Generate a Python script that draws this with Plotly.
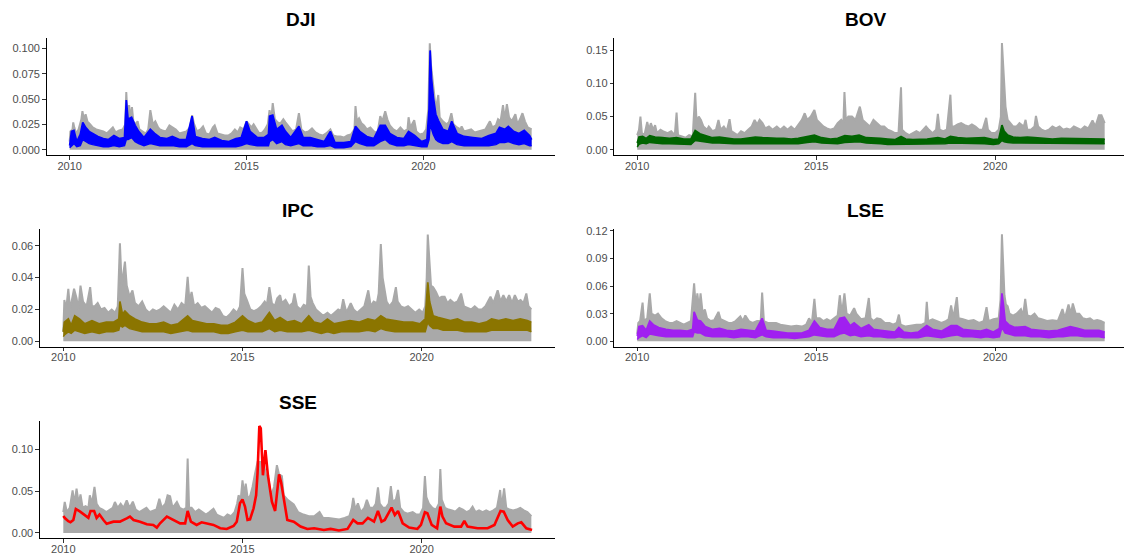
import plotly.graph_objects as go

# ---------------- DATA (time in decimal years, values = volatility) ----------------
# Gray series: upper envelope of daily absolute returns
dji_gray = [
    [2010.00, 0.008], [2010.02, 0.018], [2010.08, 0.020], [2010.10, 0.027], [2010.13, 0.022],
    [2010.18, 0.016], [2010.25, 0.020], [2010.33, 0.030], [2010.36, 0.038], [2010.40, 0.030],
    [2010.45, 0.035], [2010.50, 0.028], [2010.58, 0.025], [2010.65, 0.022], [2010.75, 0.020],
    [2010.85, 0.019], [2010.95, 0.018], [2011.05, 0.016], [2011.15, 0.020], [2011.22, 0.022],
    [2011.30, 0.017], [2011.40, 0.019], [2011.50, 0.020], [2011.57, 0.025], [2011.60, 0.057],
    [2011.63, 0.035], [2011.68, 0.044], [2011.72, 0.030], [2011.76, 0.042], [2011.80, 0.028],
    [2011.86, 0.025], [2011.92, 0.028], [2011.97, 0.020], [2012.05, 0.018], [2012.15, 0.016],
    [2012.22, 0.020], [2012.28, 0.039], [2012.35, 0.025], [2012.42, 0.028], [2012.50, 0.022],
    [2012.55, 0.020], [2012.62, 0.019], [2012.72, 0.018], [2012.82, 0.024], [2012.90, 0.022],
    [2013.00, 0.020], [2013.10, 0.016], [2013.20, 0.017], [2013.30, 0.018], [2013.40, 0.022],
    [2013.46, 0.034], [2013.52, 0.025], [2013.60, 0.018], [2013.70, 0.020], [2013.77, 0.023],
    [2013.85, 0.016], [2013.95, 0.015], [2014.05, 0.022], [2014.10, 0.024], [2014.18, 0.016],
    [2014.28, 0.015], [2014.38, 0.014], [2014.48, 0.014], [2014.58, 0.016], [2014.67, 0.020],
    [2014.75, 0.017], [2014.82, 0.022], [2014.92, 0.020], [2015.00, 0.028], [2015.06, 0.025],
    [2015.14, 0.022], [2015.20, 0.025], [2015.28, 0.020], [2015.36, 0.016], [2015.45, 0.017],
    [2015.52, 0.020], [2015.60, 0.025], [2015.65, 0.039], [2015.70, 0.030], [2015.74, 0.046],
    [2015.80, 0.030], [2015.88, 0.027], [2015.96, 0.026], [2016.04, 0.030], [2016.10, 0.027],
    [2016.20, 0.022], [2016.30, 0.018], [2016.40, 0.020], [2016.48, 0.036], [2016.55, 0.020],
    [2016.65, 0.017], [2016.75, 0.018], [2016.85, 0.021], [2016.95, 0.017], [2017.05, 0.015],
    [2017.15, 0.014], [2017.25, 0.016], [2017.37, 0.020], [2017.45, 0.014], [2017.55, 0.013],
    [2017.65, 0.013], [2017.75, 0.012], [2017.85, 0.014], [2017.95, 0.015], [2018.05, 0.020],
    [2018.08, 0.043], [2018.12, 0.028], [2018.18, 0.031], [2018.25, 0.026], [2018.32, 0.024],
    [2018.40, 0.020], [2018.50, 0.022], [2018.60, 0.018], [2018.70, 0.016], [2018.78, 0.033],
    [2018.84, 0.028], [2018.92, 0.038], [2018.98, 0.030], [2019.05, 0.024], [2019.15, 0.020],
    [2019.25, 0.018], [2019.35, 0.022], [2019.45, 0.018], [2019.55, 0.020], [2019.58, 0.032],
    [2019.63, 0.022], [2019.74, 0.029], [2019.80, 0.018], [2019.90, 0.015], [2020.00, 0.016],
    [2020.08, 0.020], [2020.14, 0.040], [2020.18, 0.105], [2020.21, 0.085], [2020.25, 0.072],
    [2020.30, 0.050], [2020.35, 0.040], [2020.42, 0.054], [2020.46, 0.032], [2020.55, 0.028],
    [2020.65, 0.025], [2020.72, 0.027], [2020.79, 0.036], [2020.85, 0.025], [2020.95, 0.022],
    [2021.05, 0.020], [2021.08, 0.023], [2021.15, 0.018], [2021.25, 0.019], [2021.35, 0.020],
    [2021.45, 0.017], [2021.55, 0.018], [2021.65, 0.019], [2021.75, 0.020], [2021.88, 0.028],
    [2021.95, 0.022], [2022.05, 0.024], [2022.11, 0.030], [2022.18, 0.028], [2022.25, 0.044],
    [2022.30, 0.030], [2022.36, 0.045], [2022.42, 0.032], [2022.50, 0.028], [2022.60, 0.035],
    [2022.66, 0.025], [2022.73, 0.030], [2022.80, 0.036], [2022.87, 0.028], [2022.95, 0.022],
    [2023.06, 0.020],
]
# Colored series: [time, upper, lower] of the fitted volatility band
dji_fit = [
    [2010.00, 0.004, 0.002], [2010.05, 0.018, 0.004], [2010.12, 0.019, 0.006], [2010.20, 0.008, 0.003],
    [2010.30, 0.015, 0.004], [2010.37, 0.027, 0.010], [2010.45, 0.022, 0.008], [2010.55, 0.018, 0.006],
    [2010.65, 0.016, 0.005], [2010.80, 0.013, 0.004], [2010.95, 0.011, 0.003], [2011.10, 0.010, 0.003],
    [2011.25, 0.014, 0.004], [2011.40, 0.011, 0.003], [2011.55, 0.012, 0.004], [2011.60, 0.049, 0.010],
    [2011.65, 0.030, 0.010], [2011.75, 0.032, 0.012], [2011.85, 0.024, 0.008], [2011.95, 0.018, 0.006],
    [2012.10, 0.012, 0.004], [2012.28, 0.020, 0.006], [2012.40, 0.016, 0.005], [2012.55, 0.012, 0.004],
    [2012.75, 0.011, 0.004], [2012.90, 0.013, 0.004], [2013.10, 0.010, 0.003], [2013.30, 0.010, 0.003],
    [2013.46, 0.033, 0.006], [2013.55, 0.013, 0.004], [2013.75, 0.011, 0.003], [2013.95, 0.010, 0.003],
    [2014.10, 0.012, 0.003], [2014.30, 0.009, 0.003], [2014.50, 0.008, 0.003], [2014.70, 0.011, 0.003],
    [2014.85, 0.012, 0.004], [2015.00, 0.028, 0.006], [2015.10, 0.018, 0.005], [2015.30, 0.012, 0.004],
    [2015.50, 0.012, 0.004], [2015.62, 0.015, 0.004], [2015.65, 0.033, 0.008], [2015.74, 0.034, 0.010],
    [2015.85, 0.020, 0.006], [2016.00, 0.024, 0.008], [2016.10, 0.018, 0.005], [2016.25, 0.012, 0.004],
    [2016.48, 0.023, 0.006], [2016.60, 0.012, 0.004], [2016.80, 0.012, 0.004], [2017.00, 0.010, 0.003],
    [2017.20, 0.008, 0.003], [2017.37, 0.018, 0.004], [2017.50, 0.007, 0.002], [2017.75, 0.007, 0.002],
    [2017.95, 0.008, 0.003], [2018.08, 0.023, 0.008], [2018.20, 0.018, 0.006], [2018.40, 0.013, 0.004],
    [2018.60, 0.011, 0.004], [2018.78, 0.024, 0.008], [2018.92, 0.024, 0.010], [2019.05, 0.016, 0.006],
    [2019.25, 0.012, 0.004], [2019.45, 0.011, 0.004], [2019.58, 0.018, 0.005], [2019.75, 0.014, 0.004],
    [2019.95, 0.008, 0.003], [2020.10, 0.010, 0.003], [2020.16, 0.040, 0.010], [2020.19, 0.098, 0.025],
    [2020.23, 0.070, 0.020], [2020.28, 0.052, 0.015], [2020.35, 0.035, 0.010], [2020.42, 0.029, 0.008],
    [2020.55, 0.020, 0.006], [2020.70, 0.018, 0.006], [2020.80, 0.028, 0.008], [2020.95, 0.016, 0.005],
    [2021.15, 0.013, 0.004], [2021.40, 0.012, 0.004], [2021.65, 0.011, 0.004], [2021.85, 0.014, 0.004],
    [2022.05, 0.016, 0.005], [2022.15, 0.022, 0.007], [2022.30, 0.020, 0.007], [2022.40, 0.023, 0.008],
    [2022.55, 0.018, 0.006], [2022.70, 0.016, 0.005], [2022.85, 0.019, 0.006], [2023.00, 0.014, 0.004],
    [2023.06, 0.010, 0.004],
]

bov_gray = [
    [2010.00, 0.022], [2010.05, 0.030], [2010.09, 0.050], [2010.13, 0.025], [2010.20, 0.022],
    [2010.28, 0.042], [2010.33, 0.030], [2010.38, 0.040], [2010.45, 0.030], [2010.50, 0.037],
    [2010.55, 0.025], [2010.65, 0.030], [2010.75, 0.027], [2010.85, 0.025], [2010.95, 0.028],
    [2011.05, 0.022], [2011.10, 0.056], [2011.14, 0.022], [2011.25, 0.020], [2011.35, 0.018],
    [2011.45, 0.022], [2011.55, 0.020], [2011.62, 0.086], [2011.66, 0.040], [2011.72, 0.050],
    [2011.78, 0.045], [2011.85, 0.035], [2011.95, 0.030], [2012.00, 0.035], [2012.10, 0.028],
    [2012.20, 0.030], [2012.27, 0.045], [2012.33, 0.030], [2012.42, 0.035], [2012.50, 0.028],
    [2012.58, 0.046], [2012.63, 0.028], [2012.72, 0.025], [2012.80, 0.022], [2012.90, 0.028],
    [2013.00, 0.025], [2013.10, 0.030], [2013.20, 0.035], [2013.28, 0.045], [2013.35, 0.038],
    [2013.42, 0.045], [2013.50, 0.040], [2013.58, 0.032], [2013.68, 0.035], [2013.78, 0.030],
    [2013.90, 0.035], [2014.00, 0.030], [2014.10, 0.035], [2014.20, 0.030], [2014.30, 0.035],
    [2014.40, 0.030], [2014.50, 0.038], [2014.60, 0.045], [2014.68, 0.055], [2014.75, 0.045],
    [2014.85, 0.050], [2014.95, 0.060], [2015.02, 0.045], [2015.10, 0.040], [2015.20, 0.035],
    [2015.30, 0.032], [2015.40, 0.030], [2015.50, 0.032], [2015.60, 0.040], [2015.70, 0.045],
    [2015.76, 0.040], [2015.79, 0.087], [2015.83, 0.045], [2015.90, 0.050], [2016.00, 0.050],
    [2016.10, 0.045], [2016.22, 0.065], [2016.30, 0.045], [2016.40, 0.040], [2016.50, 0.035],
    [2016.60, 0.045], [2016.70, 0.040], [2016.80, 0.035], [2016.90, 0.035], [2017.00, 0.030],
    [2017.10, 0.028], [2017.20, 0.025], [2017.30, 0.025], [2017.37, 0.094], [2017.40, 0.030],
    [2017.50, 0.025], [2017.60, 0.022], [2017.70, 0.025], [2017.80, 0.028], [2017.90, 0.025],
    [2018.00, 0.030], [2018.07, 0.035], [2018.15, 0.030], [2018.25, 0.025], [2018.35, 0.030],
    [2018.40, 0.054], [2018.45, 0.030], [2018.55, 0.028], [2018.65, 0.030], [2018.75, 0.083],
    [2018.79, 0.035], [2018.85, 0.035], [2018.95, 0.038], [2019.05, 0.040], [2019.15, 0.037],
    [2019.25, 0.035], [2019.35, 0.038], [2019.45, 0.035], [2019.55, 0.030], [2019.65, 0.030],
    [2019.75, 0.048], [2019.80, 0.030], [2019.90, 0.025], [2020.00, 0.025], [2020.10, 0.030],
    [2020.16, 0.050], [2020.19, 0.161], [2020.22, 0.125], [2020.25, 0.105], [2020.29, 0.065],
    [2020.35, 0.045], [2020.42, 0.040], [2020.50, 0.035], [2020.60, 0.035], [2020.68, 0.040],
    [2020.80, 0.035], [2020.85, 0.045], [2020.90, 0.030], [2021.00, 0.030], [2021.10, 0.035],
    [2021.14, 0.051], [2021.20, 0.035], [2021.30, 0.030], [2021.40, 0.028], [2021.50, 0.030],
    [2021.60, 0.035], [2021.70, 0.032], [2021.80, 0.035], [2021.90, 0.030], [2022.00, 0.032],
    [2022.10, 0.030], [2022.20, 0.035], [2022.30, 0.032], [2022.40, 0.030], [2022.50, 0.035],
    [2022.60, 0.032], [2022.72, 0.044], [2022.80, 0.035], [2022.90, 0.052], [2022.97, 0.052],
    [2023.06, 0.040],
]
bov_fit = [
    [2010.00, 0.010, 0.004], [2010.05, 0.019, 0.008], [2010.15, 0.020, 0.010], [2010.25, 0.017, 0.009],
    [2010.35, 0.021, 0.011], [2010.50, 0.019, 0.010], [2010.70, 0.018, 0.009], [2010.90, 0.017, 0.009],
    [2011.10, 0.018, 0.009], [2011.30, 0.016, 0.008], [2011.50, 0.016, 0.008], [2011.62, 0.029, 0.014],
    [2011.75, 0.024, 0.013], [2011.90, 0.021, 0.011], [2012.10, 0.018, 0.010], [2012.30, 0.019, 0.010],
    [2012.50, 0.017, 0.009], [2012.70, 0.016, 0.009], [2012.90, 0.016, 0.009], [2013.10, 0.017, 0.009],
    [2013.30, 0.019, 0.010], [2013.50, 0.018, 0.010], [2013.70, 0.017, 0.009], [2013.90, 0.017, 0.009],
    [2014.10, 0.017, 0.009], [2014.30, 0.016, 0.009], [2014.50, 0.017, 0.009], [2014.75, 0.020, 0.011],
    [2014.95, 0.022, 0.012], [2015.15, 0.018, 0.010], [2015.40, 0.016, 0.009], [2015.60, 0.017, 0.009],
    [2015.80, 0.021, 0.011], [2016.00, 0.020, 0.011], [2016.20, 0.022, 0.012], [2016.40, 0.018, 0.010],
    [2016.60, 0.018, 0.010], [2016.80, 0.017, 0.009], [2017.00, 0.016, 0.008], [2017.20, 0.015, 0.008],
    [2017.37, 0.020, 0.009], [2017.50, 0.016, 0.008], [2017.70, 0.015, 0.008], [2017.90, 0.015, 0.008],
    [2018.10, 0.016, 0.009], [2018.40, 0.018, 0.009], [2018.60, 0.016, 0.009], [2018.75, 0.020, 0.010],
    [2018.95, 0.018, 0.010], [2019.20, 0.017, 0.009], [2019.45, 0.017, 0.009], [2019.70, 0.018, 0.009],
    [2019.95, 0.015, 0.008], [2020.10, 0.016, 0.009], [2020.19, 0.037, 0.014], [2020.25, 0.028, 0.012],
    [2020.35, 0.022, 0.011], [2020.50, 0.019, 0.010], [2020.70, 0.018, 0.010], [2020.90, 0.019, 0.010],
    [2021.10, 0.018, 0.010], [2021.35, 0.017, 0.009], [2021.60, 0.016, 0.009], [2021.85, 0.017, 0.009],
    [2022.10, 0.017, 0.009], [2022.35, 0.016, 0.009], [2022.60, 0.016, 0.009], [2022.85, 0.017, 0.010],
    [2023.06, 0.016, 0.009],
]

ipc_gray = [
    [2010.00, 0.006], [2010.03, 0.026], [2010.08, 0.020], [2010.14, 0.033], [2010.19, 0.020],
    [2010.30, 0.033], [2010.37, 0.027], [2010.42, 0.020], [2010.48, 0.035], [2010.55, 0.025],
    [2010.65, 0.022], [2010.75, 0.034], [2010.80, 0.022], [2010.88, 0.022], [2010.96, 0.024],
    [2011.05, 0.020], [2011.15, 0.021], [2011.25, 0.018], [2011.35, 0.020], [2011.45, 0.018],
    [2011.52, 0.022], [2011.58, 0.0615], [2011.63, 0.035], [2011.72, 0.050], [2011.77, 0.035],
    [2011.85, 0.028], [2011.93, 0.032], [2012.00, 0.024], [2012.10, 0.022], [2012.20, 0.025],
    [2012.30, 0.020], [2012.40, 0.018], [2012.50, 0.020], [2012.60, 0.019], [2012.70, 0.020],
    [2012.80, 0.022], [2012.90, 0.020], [2013.00, 0.018], [2013.10, 0.023], [2013.20, 0.020],
    [2013.30, 0.024], [2013.40, 0.022], [2013.47, 0.0405], [2013.52, 0.025], [2013.58, 0.031],
    [2013.65, 0.022], [2013.75, 0.024], [2013.85, 0.021], [2013.95, 0.022], [2014.05, 0.020],
    [2014.15, 0.018], [2014.25, 0.021], [2014.35, 0.020], [2014.45, 0.016], [2014.55, 0.015],
    [2014.65, 0.017], [2014.75, 0.020], [2014.85, 0.018], [2014.93, 0.022], [2015.00, 0.046],
    [2015.05, 0.030], [2015.12, 0.026], [2015.22, 0.020], [2015.32, 0.019], [2015.42, 0.020],
    [2015.52, 0.022], [2015.62, 0.025], [2015.68, 0.023], [2015.75, 0.034], [2015.82, 0.024],
    [2015.90, 0.022], [2015.97, 0.027], [2016.05, 0.029], [2016.10, 0.024], [2016.20, 0.026],
    [2016.30, 0.022], [2016.40, 0.024], [2016.45, 0.030], [2016.52, 0.022], [2016.62, 0.020],
    [2016.71, 0.023], [2016.80, 0.022], [2016.85, 0.0475], [2016.90, 0.028], [2016.96, 0.024],
    [2017.05, 0.020], [2017.15, 0.018], [2017.25, 0.016], [2017.37, 0.018], [2017.47, 0.016],
    [2017.57, 0.018], [2017.67, 0.020], [2017.75, 0.019], [2017.81, 0.0265], [2017.90, 0.018],
    [2018.02, 0.024], [2018.10, 0.020], [2018.20, 0.018], [2018.30, 0.020], [2018.40, 0.022],
    [2018.51, 0.032], [2018.58, 0.022], [2018.66, 0.025], [2018.75, 0.024], [2018.80, 0.030],
    [2018.86, 0.061], [2018.91, 0.040], [2018.96, 0.034], [2019.02, 0.025], [2019.10, 0.022],
    [2019.20, 0.025], [2019.28, 0.034], [2019.33, 0.025], [2019.42, 0.022], [2019.52, 0.021],
    [2019.62, 0.022], [2019.72, 0.020], [2019.82, 0.018], [2019.93, 0.020], [2020.03, 0.018],
    [2020.10, 0.022], [2020.14, 0.040], [2020.17, 0.067], [2020.21, 0.055], [2020.26, 0.035],
    [2020.32, 0.034], [2020.40, 0.031], [2020.48, 0.027], [2020.56, 0.028], [2020.64, 0.028],
    [2020.72, 0.024], [2020.80, 0.026], [2020.90, 0.024], [2021.00, 0.025], [2021.10, 0.030],
    [2021.18, 0.022], [2021.28, 0.021], [2021.38, 0.020], [2021.48, 0.022], [2021.58, 0.020],
    [2021.68, 0.020], [2021.78, 0.022], [2021.92, 0.028], [2022.00, 0.024], [2022.12, 0.032],
    [2022.20, 0.025], [2022.28, 0.029], [2022.36, 0.025], [2022.44, 0.029], [2022.52, 0.024],
    [2022.60, 0.029], [2022.68, 0.025], [2022.76, 0.026], [2022.84, 0.024], [2022.92, 0.030],
    [2022.98, 0.022], [2023.06, 0.020],
]
ipc_fit = [
    [2010.00, 0.006, 0.003], [2010.03, 0.012, 0.004], [2010.14, 0.014, 0.006], [2010.22, 0.010, 0.005],
    [2010.32, 0.016, 0.007], [2010.45, 0.014, 0.006], [2010.60, 0.011, 0.005], [2010.80, 0.013, 0.006],
    [2011.00, 0.011, 0.005], [2011.20, 0.012, 0.006], [2011.40, 0.012, 0.006], [2011.55, 0.014, 0.007],
    [2011.58, 0.025, 0.010], [2011.65, 0.017, 0.009], [2011.72, 0.019, 0.010], [2011.85, 0.016, 0.008],
    [2012.00, 0.014, 0.007], [2012.20, 0.012, 0.006], [2012.40, 0.011, 0.006], [2012.60, 0.011, 0.006],
    [2012.80, 0.012, 0.006], [2013.00, 0.010, 0.005], [2013.20, 0.011, 0.006], [2013.47, 0.016, 0.007],
    [2013.60, 0.013, 0.006], [2013.80, 0.012, 0.006], [2014.00, 0.011, 0.006], [2014.20, 0.011, 0.006],
    [2014.40, 0.010, 0.005], [2014.60, 0.010, 0.005], [2014.80, 0.012, 0.006], [2015.00, 0.016, 0.007],
    [2015.15, 0.013, 0.006], [2015.35, 0.011, 0.006], [2015.55, 0.012, 0.006], [2015.75, 0.018, 0.008],
    [2015.90, 0.013, 0.006], [2016.05, 0.015, 0.007], [2016.25, 0.012, 0.006], [2016.45, 0.013, 0.006],
    [2016.65, 0.011, 0.006], [2016.85, 0.016, 0.007], [2017.00, 0.012, 0.006], [2017.20, 0.011, 0.005],
    [2017.37, 0.014, 0.006], [2017.55, 0.011, 0.005], [2017.75, 0.012, 0.006], [2018.00, 0.013, 0.006],
    [2018.25, 0.012, 0.006], [2018.50, 0.014, 0.007], [2018.70, 0.013, 0.006], [2018.86, 0.016, 0.008],
    [2019.00, 0.014, 0.007], [2019.25, 0.013, 0.006], [2019.50, 0.012, 0.006], [2019.75, 0.012, 0.006],
    [2019.95, 0.011, 0.006], [2020.10, 0.014, 0.006], [2020.17, 0.037, 0.012], [2020.22, 0.025, 0.010],
    [2020.32, 0.016, 0.008], [2020.45, 0.015, 0.008], [2020.60, 0.014, 0.007], [2020.80, 0.013, 0.007],
    [2021.00, 0.014, 0.007], [2021.20, 0.012, 0.006], [2021.40, 0.012, 0.006], [2021.60, 0.011, 0.006],
    [2021.80, 0.012, 0.006], [2021.95, 0.014, 0.007], [2022.15, 0.013, 0.007], [2022.35, 0.014, 0.007],
    [2022.55, 0.013, 0.007], [2022.75, 0.014, 0.007], [2022.95, 0.013, 0.007], [2023.06, 0.012, 0.006],
]

lse_gray = [
    [2010.00, 0.008], [2010.03, 0.020], [2010.08, 0.022], [2010.15, 0.042], [2010.19, 0.022],
    [2010.28, 0.025], [2010.35, 0.052], [2010.40, 0.030], [2010.50, 0.028], [2010.58, 0.030],
    [2010.68, 0.025], [2010.78, 0.022], [2010.90, 0.020], [2011.00, 0.020], [2011.10, 0.022],
    [2011.20, 0.020], [2011.30, 0.018], [2011.40, 0.020], [2011.50, 0.022], [2011.59, 0.063],
    [2011.64, 0.035], [2011.68, 0.052], [2011.73, 0.035], [2011.77, 0.052], [2011.83, 0.030],
    [2011.89, 0.0345], [2011.95, 0.025], [2012.05, 0.022], [2012.15, 0.023], [2012.27, 0.032],
    [2012.33, 0.024], [2012.45, 0.022], [2012.55, 0.020], [2012.65, 0.020], [2012.75, 0.022],
    [2012.88, 0.027], [2012.95, 0.022], [2013.02, 0.028], [2013.12, 0.022], [2013.22, 0.020],
    [2013.35, 0.022], [2013.45, 0.022], [2013.49, 0.053], [2013.54, 0.022], [2013.65, 0.020],
    [2013.75, 0.020], [2013.88, 0.020], [2014.00, 0.018], [2014.15, 0.017], [2014.30, 0.016],
    [2014.45, 0.017], [2014.60, 0.016], [2014.72, 0.018], [2014.80, 0.025], [2014.88, 0.020],
    [2014.95, 0.046], [2015.00, 0.025], [2015.10, 0.025], [2015.20, 0.022], [2015.30, 0.024],
    [2015.40, 0.022], [2015.50, 0.025], [2015.60, 0.028], [2015.66, 0.050], [2015.72, 0.030],
    [2015.79, 0.052], [2015.85, 0.030], [2015.95, 0.028], [2016.06, 0.036], [2016.12, 0.030],
    [2016.25, 0.024], [2016.38, 0.025], [2016.47, 0.047], [2016.52, 0.025], [2016.60, 0.022],
    [2016.70, 0.025], [2016.80, 0.024], [2016.92, 0.020], [2017.05, 0.020], [2017.15, 0.018],
    [2017.25, 0.020], [2017.31, 0.029], [2017.36, 0.018], [2017.50, 0.016], [2017.65, 0.017],
    [2017.80, 0.018], [2017.95, 0.018], [2018.05, 0.020], [2018.09, 0.043], [2018.13, 0.022],
    [2018.25, 0.024], [2018.38, 0.022], [2018.50, 0.020], [2018.62, 0.022], [2018.70, 0.024],
    [2018.77, 0.039], [2018.83, 0.025], [2018.93, 0.048], [2018.98, 0.025], [2019.10, 0.024],
    [2019.25, 0.022], [2019.40, 0.023], [2019.55, 0.020], [2019.68, 0.022], [2019.76, 0.037],
    [2019.82, 0.022], [2019.95, 0.024], [2020.10, 0.025], [2020.15, 0.045], [2020.19, 0.116],
    [2020.22, 0.092], [2020.26, 0.050], [2020.30, 0.040], [2020.35, 0.038], [2020.40, 0.030],
    [2020.50, 0.028], [2020.60, 0.030], [2020.72, 0.035], [2020.78, 0.028], [2020.84, 0.046],
    [2020.90, 0.028], [2021.00, 0.027], [2021.10, 0.030], [2021.20, 0.025], [2021.30, 0.024],
    [2021.45, 0.022], [2021.60, 0.023], [2021.75, 0.022], [2021.88, 0.035], [2021.95, 0.025],
    [2022.05, 0.040], [2022.12, 0.030], [2022.17, 0.041], [2022.25, 0.030], [2022.35, 0.030],
    [2022.45, 0.025], [2022.55, 0.024], [2022.65, 0.025], [2022.75, 0.022], [2022.85, 0.023],
    [2022.95, 0.022], [2023.06, 0.020],
]
lse_fit = [
    [2010.00, 0.006, 0.002], [2010.05, 0.016, 0.004], [2010.15, 0.017, 0.006], [2010.25, 0.012, 0.004],
    [2010.35, 0.022, 0.008], [2010.45, 0.018, 0.007], [2010.60, 0.015, 0.006], [2010.80, 0.013, 0.005],
    [2011.00, 0.012, 0.005], [2011.20, 0.012, 0.005], [2011.40, 0.011, 0.005], [2011.55, 0.013, 0.005],
    [2011.59, 0.032, 0.010], [2011.68, 0.023, 0.009], [2011.77, 0.022, 0.009], [2011.90, 0.016, 0.006],
    [2012.10, 0.013, 0.005], [2012.30, 0.014, 0.005], [2012.50, 0.012, 0.005], [2012.70, 0.011, 0.004],
    [2012.90, 0.013, 0.005], [2013.10, 0.012, 0.005], [2013.30, 0.011, 0.004], [2013.49, 0.025, 0.007],
    [2013.60, 0.012, 0.005], [2013.80, 0.011, 0.004], [2014.00, 0.010, 0.004], [2014.20, 0.009, 0.004],
    [2014.40, 0.009, 0.003], [2014.60, 0.009, 0.004], [2014.80, 0.012, 0.005], [2014.95, 0.022, 0.007],
    [2015.10, 0.015, 0.006], [2015.30, 0.013, 0.005], [2015.50, 0.013, 0.005], [2015.66, 0.025, 0.008],
    [2015.79, 0.026, 0.009], [2015.95, 0.017, 0.006], [2016.06, 0.020, 0.007], [2016.25, 0.014, 0.005],
    [2016.47, 0.018, 0.006], [2016.60, 0.013, 0.005], [2016.80, 0.012, 0.005], [2017.00, 0.011, 0.004],
    [2017.20, 0.010, 0.004], [2017.31, 0.015, 0.005], [2017.45, 0.010, 0.004], [2017.65, 0.009, 0.004],
    [2017.85, 0.010, 0.004], [2018.09, 0.017, 0.006], [2018.25, 0.013, 0.005], [2018.50, 0.011, 0.004],
    [2018.77, 0.017, 0.006], [2018.93, 0.017, 0.007], [2019.10, 0.013, 0.005], [2019.35, 0.012, 0.005],
    [2019.60, 0.011, 0.004], [2019.76, 0.013, 0.005], [2019.95, 0.010, 0.004], [2020.12, 0.014, 0.005],
    [2020.19, 0.052, 0.015], [2020.23, 0.040, 0.012], [2020.28, 0.022, 0.009], [2020.38, 0.018, 0.008],
    [2020.55, 0.015, 0.006], [2020.84, 0.016, 0.006], [2021.00, 0.013, 0.005], [2021.25, 0.012, 0.005],
    [2021.50, 0.011, 0.004], [2021.75, 0.012, 0.005], [2021.90, 0.014, 0.005], [2022.10, 0.016, 0.006],
    [2022.30, 0.014, 0.006], [2022.50, 0.012, 0.005], [2022.70, 0.012, 0.005], [2022.90, 0.012, 0.005],
    [2023.06, 0.010, 0.004],
]

sse_gray = [
    [2010.00, 0.025], [2010.04, 0.037], [2010.10, 0.025], [2010.18, 0.030], [2010.26, 0.051],
    [2010.31, 0.035], [2010.37, 0.053], [2010.43, 0.035], [2010.48, 0.046], [2010.54, 0.030],
    [2010.62, 0.032], [2010.70, 0.030], [2010.74, 0.045], [2010.80, 0.035], [2010.87, 0.055],
    [2010.93, 0.035], [2011.00, 0.030], [2011.10, 0.028], [2011.20, 0.025], [2011.30, 0.028],
    [2011.38, 0.030], [2011.44, 0.037], [2011.52, 0.030], [2011.60, 0.035], [2011.68, 0.030],
    [2011.77, 0.039], [2011.85, 0.030], [2011.94, 0.0375], [2012.02, 0.028], [2012.12, 0.025],
    [2012.22, 0.028], [2012.32, 0.030], [2012.42, 0.025], [2012.52, 0.027], [2012.60, 0.028],
    [2012.68, 0.041], [2012.75, 0.030], [2012.85, 0.035], [2012.91, 0.045], [2012.98, 0.044],
    [2013.05, 0.030], [2013.17, 0.037], [2013.25, 0.030], [2013.35, 0.028], [2013.43, 0.030],
    [2013.47, 0.089], [2013.51, 0.030], [2013.58, 0.030], [2013.68, 0.025], [2013.78, 0.028],
    [2013.88, 0.025], [2013.98, 0.022], [2014.08, 0.025], [2014.19, 0.029], [2014.28, 0.022],
    [2014.38, 0.020], [2014.48, 0.018], [2014.58, 0.022], [2014.68, 0.020], [2014.78, 0.025],
    [2014.85, 0.035], [2014.89, 0.045], [2014.95, 0.040], [2015.00, 0.063], [2015.05, 0.045],
    [2015.09, 0.059], [2015.15, 0.040], [2015.22, 0.045], [2015.28, 0.055], [2015.35, 0.071],
    [2015.42, 0.085], [2015.50, 0.085], [2015.59, 0.085], [2015.65, 0.070], [2015.72, 0.065],
    [2015.80, 0.045], [2015.88, 0.055], [2015.96, 0.081], [2016.02, 0.070], [2016.10, 0.068],
    [2016.15, 0.045], [2016.25, 0.040], [2016.43, 0.034], [2016.55, 0.025], [2016.70, 0.022],
    [2016.85, 0.020], [2017.00, 0.020], [2017.15, 0.025], [2017.25, 0.018], [2017.40, 0.018],
    [2017.55, 0.017], [2017.70, 0.016], [2017.85, 0.018], [2017.98, 0.020], [2018.05, 0.030],
    [2018.09, 0.042], [2018.15, 0.028], [2018.22, 0.0355], [2018.30, 0.025], [2018.40, 0.030],
    [2018.47, 0.0395], [2018.55, 0.030], [2018.65, 0.030], [2018.72, 0.035], [2018.78, 0.0546],
    [2018.83, 0.035], [2018.92, 0.030], [2019.00, 0.030], [2019.08, 0.035], [2019.14, 0.056],
    [2019.19, 0.0375], [2019.28, 0.040], [2019.34, 0.0514], [2019.40, 0.030], [2019.50, 0.025],
    [2019.60, 0.023], [2019.75, 0.025], [2019.85, 0.022], [2019.95, 0.022], [2020.04, 0.030],
    [2020.09, 0.068], [2020.13, 0.043], [2020.20, 0.035], [2020.30, 0.030], [2020.40, 0.028],
    [2020.48, 0.035], [2020.52, 0.0765], [2020.56, 0.040], [2020.65, 0.030], [2020.75, 0.028],
    [2020.85, 0.027], [2020.94, 0.0255], [2021.05, 0.030], [2021.15, 0.028], [2021.25, 0.025],
    [2021.35, 0.027], [2021.42, 0.0315], [2021.50, 0.025], [2021.60, 0.027], [2021.70, 0.025],
    [2021.80, 0.027], [2021.90, 0.025], [2022.00, 0.027], [2022.10, 0.030], [2022.19, 0.0514],
    [2022.23, 0.030], [2022.30, 0.0534], [2022.36, 0.030], [2022.45, 0.028], [2022.55, 0.027],
    [2022.65, 0.028], [2022.75, 0.030], [2022.85, 0.027], [2022.95, 0.025], [2023.06, 0.020],
]
sse_fit = [
    [2010.00, 0.0203], [2010.05, 0.0175], [2010.14, 0.0140], [2010.20, 0.0127], [2010.28, 0.0155],
    [2010.35, 0.0287], [2010.47, 0.0255], [2010.61, 0.0215], [2010.70, 0.0180], [2010.76, 0.0263],
    [2010.86, 0.0263], [2010.93, 0.0180], [2011.01, 0.0220], [2011.12, 0.0155], [2011.21, 0.0110],
    [2011.40, 0.0135], [2011.58, 0.0135], [2011.77, 0.0175], [2011.86, 0.0195], [2011.96, 0.0155],
    [2012.14, 0.0135], [2012.33, 0.0104], [2012.51, 0.0096], [2012.61, 0.0064], [2012.70, 0.0115],
    [2012.89, 0.0195], [2012.98, 0.0175], [2013.07, 0.0155], [2013.26, 0.0115], [2013.40, 0.0115],
    [2013.47, 0.0263], [2013.56, 0.0135], [2013.72, 0.0096], [2013.86, 0.0127], [2014.00, 0.0115],
    [2014.19, 0.0096], [2014.38, 0.0056], [2014.56, 0.0048], [2014.75, 0.0084], [2014.84, 0.0135],
    [2014.93, 0.0355], [2015.00, 0.0400], [2015.07, 0.0315], [2015.14, 0.0155], [2015.21, 0.0163],
    [2015.31, 0.0295], [2015.38, 0.0450], [2015.42, 0.0713], [2015.47, 0.1280], [2015.51, 0.1250],
    [2015.57, 0.0690], [2015.64, 0.0990], [2015.71, 0.0690], [2015.82, 0.0375], [2015.91, 0.0263],
    [2016.02, 0.0700], [2016.08, 0.0600], [2016.14, 0.0430], [2016.25, 0.0155], [2016.43, 0.0135],
    [2016.62, 0.0076], [2016.81, 0.0048], [2017.00, 0.0056], [2017.27, 0.0036], [2017.46, 0.0048],
    [2017.69, 0.0030], [2017.93, 0.0048], [2018.09, 0.0155], [2018.21, 0.0115], [2018.35, 0.0115],
    [2018.50, 0.0180], [2018.67, 0.0135], [2018.78, 0.0263], [2018.88, 0.0135], [2018.97, 0.0155],
    [2019.16, 0.0303], [2019.25, 0.0215], [2019.34, 0.0263], [2019.47, 0.0115], [2019.65, 0.0064],
    [2019.88, 0.0048], [2019.98, 0.0096], [2020.09, 0.0247], [2020.16, 0.0235], [2020.28, 0.0096],
    [2020.43, 0.0056], [2020.52, 0.0315], [2020.58, 0.0195], [2020.68, 0.0115], [2020.91, 0.0076],
    [2021.10, 0.0076], [2021.19, 0.0143], [2021.28, 0.0076], [2021.56, 0.0056], [2021.84, 0.0056],
    [2022.03, 0.0096], [2022.20, 0.0263], [2022.29, 0.0255], [2022.40, 0.0155], [2022.54, 0.0076],
    [2022.68, 0.0115], [2022.78, 0.0127], [2022.92, 0.0056], [2023.08, 0.0036],
]

titles = ["DJI", "BOV", "IPC", "LSE", "SSE"]
x_ticks = [2010, 2015, 2020]
y_ticks = {
    "DJI": [0, 0.025, 0.05, 0.075, 0.1],
    "BOV": [0, 0.05, 0.10, 0.15],
    "IPC": [0, 0.02, 0.04, 0.06],
    "LSE": [0, 0.03, 0.06, 0.09, 0.12],
    "SSE": [0, 0.05, 0.10],
}
y_tick_text = {
    "DJI": ["0.000", "0.025", "0.050", "0.075", "0.100"],
    "BOV": ["0.00", "0.05", "0.10", "0.15"],
    "IPC": ["0.00", "0.02", "0.04", "0.06"],
    "LSE": ["0.00", "0.03", "0.06", "0.09", "0.12"],
    "SSE": ["0.00", "0.05", "0.10"],
}

# ---------------- STYLE / LAYOUT ----------------
W, H = 1124, 556
GRAY = "#A9A9A9"
colors = {"DJI": "#0000FF", "BOV": "#006400", "IPC": "#8B7500", "LSE": "#A020F0", "SSE": "#FF0000"}

# panel boxes in pixels: (left, right, top, bottom)
boxes = {
    "DJI": (46.7, 555.0, 38.0, 155.0),
    "BOV": (614.3, 1124.0, 38.0, 155.0),
    "IPC": (40.0, 555.0, 229.3, 346.7),
    "LSE": (614.3, 1124.0, 229.3, 346.7),
    "SSE": (40.0, 555.0, 421.0, 538.3),
}
x_ranges = {
    "DJI": [2009.35, 2023.72],
    "BOV": [2009.36, 2023.60],
    "IPC": [2009.35, 2023.72],
    "LSE": [2009.36, 2023.60],
    "SSE": [2009.35, 2023.72],
}
y_ranges = {
    "DJI": [-0.00525, 0.11025],
    "BOV": [-0.0080, 0.1685],
    "IPC": [-0.00335, 0.0703],
    "LSE": [-0.0058, 0.1215],
    "SSE": [-0.0064, 0.1339],
}
gray_data = {"DJI": dji_gray, "BOV": bov_gray, "IPC": ipc_gray, "LSE": lse_gray, "SSE": sse_gray}
fit_data = {"DJI": dji_fit, "BOV": bov_fit, "IPC": ipc_fit, "LSE": lse_fit, "SSE": sse_fit}

FONT = "Liberation Sans, Arial, Helvetica, sans-serif"
fig = go.Figure()
layout = dict(
    width=W, height=H, autosize=False,
    margin=dict(l=0, r=0, t=0, b=0, pad=0),
    paper_bgcolor="white", plot_bgcolor="white",
    showlegend=False,
    font=dict(family=FONT, size=11, color="#4D4D4D"),
)
annotations = []

for i, name in enumerate(titles):
    k = "" if i == 0 else str(i + 1)
    xa, ya = "x" + k, "y" + k
    left, right, top, bottom = boxes[name]
    col = colors[name]

    gx, gy = zip(*gray_data[name])
    fig.add_trace(go.Scatter(
        x=list(gx), y=list(gy), xaxis=xa, yaxis=ya, mode="lines",
        line=dict(color=GRAY, width=2), fill="tozeroy", fillcolor=GRAY,
        hoverinfo="skip",
    ))

    if name == "SSE":
        fx, fy = zip(*fit_data[name])
        fig.add_trace(go.Scatter(
            x=list(fx), y=list(fy), xaxis=xa, yaxis=ya, mode="lines",
            line=dict(color=col, width=2.6), hoverinfo="skip",
        ))
    else:
        fx, fhi, flo = zip(*fit_data[name])
        fig.add_trace(go.Scatter(
            x=list(fx), y=list(flo), xaxis=xa, yaxis=ya, mode="lines",
            line=dict(color=col, width=1.5), hoverinfo="skip",
        ))
        fig.add_trace(go.Scatter(
            x=list(fx), y=list(fhi), xaxis=xa, yaxis=ya, mode="lines",
            line=dict(color=col, width=1.8), fill="tonexty", fillcolor=col,
            hoverinfo="skip",
        ))

    axis_common = dict(
        showline=True, linecolor="black", linewidth=1.1, mirror=False,
        ticks="outside", ticklen=3.5, tickwidth=1, tickcolor="#333333",
        showgrid=False, zeroline=False, automargin=False,
        tickfont=dict(family=FONT, size=11, color="#4D4D4D"),
    )
    layout["xaxis" + k] = dict(
        axis_common, domain=[left / W, right / W], anchor=ya,
        range=x_ranges[name], tickmode="array", tickvals=x_ticks,
        ticktext=[str(v) for v in x_ticks], ticklabelstandoff=-3,
    )
    layout["yaxis" + k] = dict(
        axis_common, domain=[1 - bottom / H, 1 - top / H], anchor=xa,
        range=y_ranges[name], tickmode="array", tickvals=y_ticks[name],
        ticktext=y_tick_text[name],
    )
    annotations.append(dict(
        text="<b>%s</b>" % name, xref="paper", yref="paper",
        x=(left + min(right, 1116.7)) / 2 / W, y=1 - (top - 18.5) / H,
        xanchor="center", yanchor="middle", showarrow=False,
        font=dict(family=FONT, size=19, color="black"),
    ))

layout["annotations"] = annotations
fig.update_layout(**layout)
fig.write_html(
    "out.html",
    config={"displayModeBar": False},
    post_script="document.body.style.margin='0px';document.body.style.padding='0px';",
)
